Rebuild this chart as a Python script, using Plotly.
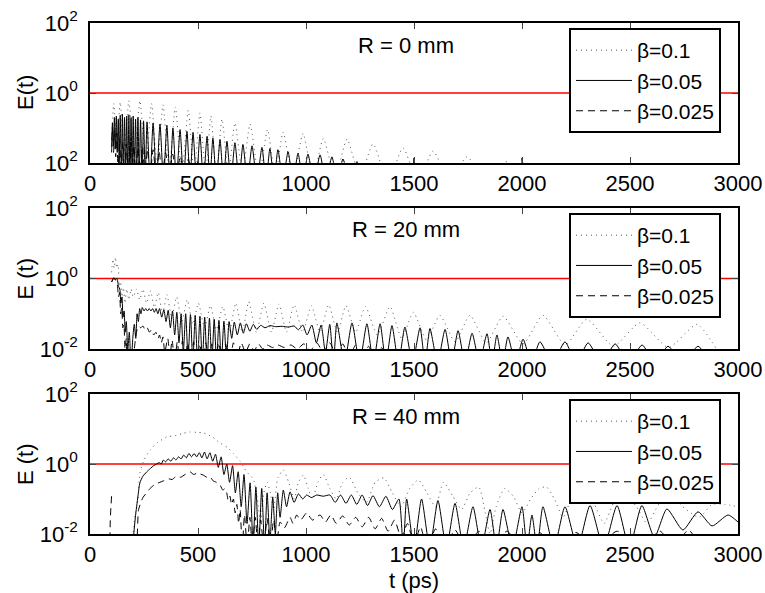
import plotly.graph_objects as go

# ---------------- data (t in ps, E) ----------------
betas = ["β=0.1", "β=0.05", "β=0.025"]
panel_labels = ["R = 0 mm", "R = 20 mm", "R = 40 mm"]
ylabels = ["E(t)", "E (t)", "E (t)"]
x_ticks = [0, 500, 1000, 1500, 2000, 2500, 3000]
y_ticks = [0.01, 1, 100]
y_ticktext_p1 = ["10<sup>2</sup>", "10<sup>0</sup>", "10<sup>2</sup>"]
y_ticktext = ["10<sup>-2</sup>", "10<sup>0</sup>", "10<sup>2</sup>"]
threshold_E = [1.0, 1.0]
threshold_t = [0, 3000]

# R = 0 mm
r0_b01 = [(100,0.05),(110,0.5),(125,0.03),(140,0.55),(158,0.02),(180,0.6),(205,0.015),(231,0.6),
          (258,0.01),(285,0.5),(311,0.008),(338,0.46),(366,0.006),(395,0.4),(425,0.005),(455,0.32),
          (482,0.005),(509,0.27),(535,0.005),(560,0.22),(585,0.005),(611,0.18),(641,0.005),(671,0.14),
          (706,0.005),(741,0.13),(782,0.004),(822,0.09),(858,0.004),(894,0.076),(940,0.004),(986,0.07),
          (1033,0.004),(1080,0.05),(1135,0.004),(1190,0.048),(1250,0.004),(1310,0.035),(1380,0.003),
          (1449,0.027),(1518,0.003),(1588,0.022),(1666,0.003),(1745,0.015),(1838,0.003),(1930,0.011),(2020,0.003)]
r0_b005 = [(100,0.03),(104,0.14),(108,0.03),(113,0.2),(117,0.025),(122,0.22),(126,0.02),(131,0.18),
           (135,0.01),(140,0.23),(145,0.005),(150,0.25),(155,0.004),(160,0.2),(165,0.004),(170,0.22),
           (175,0.004),(180,0.24),(185,0.004),(190,0.2),(195,0.004),(200,0.22),(205,0.004),(211,0.18),
           (216,0.004),(222,0.2),(228,0.004),(234,0.17),(241,0.004),(248,0.16),(256,0.004),(264,0.15),
           (278,0.003),(292,0.14),(308,0.003),(324,0.13),(340,0.003),(356,0.12),(370,0.003),(384,0.1),
           (400,0.003),(417,0.09),(433,0.003),(449,0.08),(463,0.003),(477,0.075),(493,0.003),(509,0.065),
           (525,0.003),(542,0.058),(555,0.003),(569,0.052),(585,0.003),(602,0.047),(618,0.003),(634,0.042),
           (652,0.003),(671,0.038),(690,0.003),(708,0.034),(729,0.003),(750,0.031),(773,0.003),(796,0.028),
           (815,0.003),(833,0.026),(852,0.003),(870,0.024),(893,0.003),(917,0.021),(940,0.003),(963,0.019),
           (986,0.003),(1009,0.018),(1037,0.003),(1065,0.017),(1092,0.003),(1120,0.015),(1145,0.003),
           (1171,0.013),(1203,0.003),(1236,0.011),(1255,0.003),(1490,0.003),(1500,0.014),(1510,0.003),
           (1990,0.003),(2000,0.014),(2010,0.003)]
r0_b0025 = [(100,0.02),(104,0.1),(109,0.02),(114,0.09),(119,0.015),(124,0.07),(130,0.006),(137,0.05),
            (144,0.005),(152,0.04),(160,0.004),(168,0.035),(176,0.004),(185,0.03),(194,0.004),(203,0.032),
            (212,0.004),(222,0.028),(232,0.004),(243,0.03),(254,0.004),(266,0.025),(278,0.004),(292,0.024),
            (306,0.004),(320,0.022),(334,0.004),(350,0.02),(366,0.004),(383,0.018),(400,0.004),(418,0.016),
            (436,0.004),(455,0.013),(475,0.004),(496,0.011),(518,0.004)]

# R = 20 mm
r20_b01 = [(100,1.5),(106,3.5),(112,2.0),(118,4.0),(124,2.0),(130,2.5),(136,0.6),(142,0.8),(148,0.3),
           (155,0.55),(162,0.2),(170,0.5),(180,0.25),(190,0.5),(200,0.3),(215,0.5),(230,0.25),(245,0.5),
           (262,0.2),(280,0.45),(298,0.15),(316,0.4),(336,0.1),(356,0.35),(378,0.08),(401,0.3),(425,0.06),
           (450,0.25),(476,0.05),(502,0.2),(530,0.04),(558,0.17),(585,0.035),(615,0.16),(645,0.03),
           (675,0.2),(705,0.03),(735,0.22),(770,0.03),(805,0.2),(840,0.03),(875,0.19),(910,0.03),
           (945,0.18),(985,0.03),(1025,0.17),(1065,0.03),(1105,0.18),(1145,0.03),(1185,0.17),(1230,0.03),
           (1275,0.16),(1330,0.025),(1389,0.16),(1443,0.02),(1497,0.11),(1558,0.018),(1620,0.09),
           (1690,0.016),(1759,0.09),(1835,0.015),(1912,0.085),(2005,0.014),(2097,0.09),(2200,0.013),
           (2300,0.07),(2423,0.012),(2546,0.055),(2678,0.011),(2810,0.05),(2900,0.01)]
r20_b005 = [(100,0.8),(110,1.05),(118,0.95),(125,1.0),(132,0.6),(138,0.5),(143,0.2),(148,0.3),
            (153,0.08),(158,0.12),(163,0.03),(168,0.06),(175,0.01),(182,0.03),(190,0.003),(198,0.02),
            (205,0.05),(212,0.02),(218,0.1),(224,0.06),(230,0.14),(236,0.1),(242,0.15),(250,0.12),
            (258,0.14),(266,0.12),(274,0.14),(282,0.12),(290,0.14),(298,0.11),(306,0.14),(314,0.1),
            (322,0.14),(332,0.08),(342,0.13),(352,0.06),(362,0.125),(372,0.04),(382,0.12),(392,0.025),
            (402,0.11),(412,0.015),(422,0.1),(432,0.008),(443,0.1),(454,0.005),(465,0.095),(476,0.004),
            (487,0.09),(498,0.004),(509,0.085),(520,0.004),(531,0.08),(542,0.004),(553,0.075),(564,0.004),
            (575,0.07),(586,0.004),(597,0.065),(608,0.004),(620,0.062),(632,0.005),(644,0.06),(656,0.02),
            (668,0.058),(682,0.025),(696,0.055),(710,0.028),(724,0.052),(740,0.032),(756,0.05),(772,0.036),
            (790,0.047),(810,0.04),(833,0.046),(860,0.043),(890,0.044),(920,0.042),(945,0.045),(965,0.035),
            (985,0.048),(1005,0.025),(1027,0.048),(1048,0.015),(1070,0.048),(1090,0.008),(1110,0.05),
            (1127,0.004),(1143,0.055),(1178,0.004),(1213,0.055),(1248,0.004),(1282,0.052),(1312,0.004),
            (1343,0.052),(1370,0.004),(1398,0.046),(1428,0.004),(1458,0.042),(1493,0.004),(1528,0.04),
            (1551,0.004),(1574,0.038),(1609,0.004),(1644,0.036),(1674,0.004),(1704,0.033),(1736,0.004),
            (1769,0.028),(1803,0.004),(1838,0.027),(1861,0.004),(1884,0.025),(1910,0.004),(1935,0.022),
            (1970,0.004),(2005,0.019),(2044,0.004),(2083,0.016),(2141,0.004),(2199,0.016),(2252,0.004),
            (2306,0.015),(2368,0.004),(2431,0.014),(2493,0.004),(2556,0.013),(2616,0.004),(2676,0.012),
            (2745,0.004),(2815,0.012),(2870,0.004)]
r20_b0025 = [(100,0.8),(110,1.0),(118,0.9),(126,0.7),(132,0.3),(137,0.4),(142,0.1),(147,0.15),
             (152,0.04),(157,0.05),(162,0.01),(168,0.02),(175,0.003),(185,0.003),(195,0.003),(205,0.01),
             (215,0.03),(225,0.045),(235,0.04),(245,0.045),(255,0.035),(265,0.04),(275,0.03),(285,0.035),
             (295,0.025),(305,0.03),(315,0.02),(322,0.025),(330,0.015),(338,0.022),(346,0.008),(360,0.02),
             (370,0.006),(380,0.018),(392,0.004),(404,0.016),(416,0.004),(428,0.017),(440,0.004),
             (452,0.015),(466,0.004),(480,0.016),(494,0.004),(508,0.014),(522,0.004),(536,0.015),
             (550,0.004),(564,0.014),(580,0.004),(596,0.015),(612,0.004),(628,0.014),(646,0.004),
             (664,0.015),(682,0.006),(700,0.015),(720,0.008),(740,0.014),(760,0.009),(780,0.014),
             (800,0.01),(820,0.013),(845,0.011),(870,0.013),(900,0.011),(930,0.013),(960,0.01),
             (990,0.014),(1020,0.009),(1050,0.015),(1080,0.008),(1110,0.015),(1140,0.007),(1170,0.014),
             (1200,0.006),(1230,0.013),(1260,0.005),(1290,0.012),(1320,0.004),(1350,0.011),(1380,0.003)]

# R = 40 mm
r40_b01 = [(190,0.003),(210,0.04),(222,0.095),(231,0.55),(250,1.3),(278,2.5),(310,4.0),(356,5.9),
           (400,6.5),(430,7.5),(463,8.2),(495,8.0),(525,7.7),(565,6.0),(602,4.0),(635,3.0),(664,2.0),
           (695,1.2),(725,0.6),(756,0.37),(775,0.1),(790,0.02),(805,0.15),(820,0.3),(835,0.15),(850,0.05),
           (870,0.4),(895,0.67),(920,0.3),(945,0.1),(965,0.3),(988,0.48),(1010,0.2),(1030,0.1),(1055,0.3),
           (1080,0.5),(1110,0.2),(1140,0.1),(1170,0.3),(1200,0.42),(1240,0.15),(1280,0.08),(1320,0.3),
           (1360,0.4),(1400,0.15),(1440,0.06),(1480,0.2),(1520,0.35),(1560,0.15),(1600,0.06),(1636,0.3),
           (1680,0.12),(1720,0.05),(1760,0.15),(1800,0.22),(1830,0.04),(1852,0.01),(1880,0.06),(1920,0.2),
           (1960,0.12),(2000,0.04),(2040,0.1),(2080,0.2),(2114,0.22),(2150,0.1),(2190,0.03),(2230,0.1),
           (2280,0.15),(2330,0.08),(2380,0.02),(2430,0.09),(2480,0.13),(2530,0.06),(2580,0.02),(2640,0.08),
           (2700,0.1),(2760,0.05),(2820,0.03),(2880,0.07),(2940,0.07),(3000,0.06)]
r40_b005 = [(195,0.003),(210,0.03),(222,0.12),(231,0.29),(245,0.45),(262,0.59),(280,0.75),(295,0.9),
            (309,1.0),(320,1.1),(330,1.0),(340,1.3),(350,1.15),(362,1.4),(374,1.2),(386,1.5),(398,1.3),
            (410,1.6),(422,1.4),(434,1.8),(446,1.5),(458,2.0),(470,1.6),(482,2.0),(494,1.6),(506,2.1),
            (518,1.5),(530,2.2),(542,1.4),(555,2.1),(568,1.2),(581,1.9),(594,0.8),(607,1.6),(620,0.5),
            (633,1.0),(646,0.3),(660,0.9),(673,0.15),(686,0.6),(700,0.06),(713,0.5),(727,0.02),(741,0.29),
            (755,0.005),(768,0.22),(781,0.004),(795,0.2),(808,0.004),(820,0.15),(833,0.006),(846,0.115),
            (858,0.01),(869,0.15),(880,0.03),(895,0.18),(910,0.06),(926,0.16),(945,0.08),(965,0.14),
            (985,0.1),(1003,0.13),(1025,0.11),(1050,0.13),(1080,0.12),(1111,0.13),(1135,0.08),(1160,0.13),
            (1185,0.075),(1210,0.13),(1235,0.07),(1260,0.13),(1285,0.065),(1310,0.125),(1340,0.06),
            (1370,0.12),(1400,0.05),(1430,0.1),(1450,0.004),(1466,0.1),(1500,0.004),(1535,0.1),(1573,0.004),
            (1611,0.09),(1650,0.004),(1690,0.075),(1730,0.004),(1773,0.06),(1812,0.004),(1852,0.05),
            (1882,0.004),(1912,0.05),(1956,0.004),(2000,0.06),(2023,0.004),(2046,0.035),(2070,0.004),
            (2097,0.06),(2148,0.004),(2199,0.06),(2257,0.004),(2315,0.065),(2378,0.004),(2440,0.065),
            (2497,0.004),(2555,0.065),(2613,0.008),(2671,0.052),(2745,0.013),(2815,0.043),(2880,0.017),
            (2954,0.035),(3000,0.022)]
r40_b0025 = [(100,0.12),(104,0.003),(205,0.003),(225,0.05),(245,0.11),(262,0.15),(278,0.2),(300,0.26),
             (324,0.3),(340,0.33),(362,0.38),(380,0.36),(401,0.45),(420,0.42),(440,0.5),(463,0.6),
             (480,0.5),(495,0.55),(509,0.52),(525,0.48),(540,0.42),(556,0.43),(570,0.33),(585,0.3),
             (602,0.25),(615,0.18),(625,0.2),(633,0.15),(640,0.09),(648,0.12),(655,0.07),(664,0.1),
             (672,0.04),(680,0.07),(688,0.02),(695,0.05),(705,0.004),(715,0.035),(728,0.004),(740,0.03),
             (752,0.004),(765,0.03),(778,0.004),(790,0.025),(805,0.004),(820,0.028),(835,0.004),
             (850,0.025),(865,0.006),(880,0.022),(900,0.015),(926,0.03),(940,0.02),(957,0.035),
             (975,0.025),(1003,0.04),(1030,0.025),(1065,0.035),(1090,0.022),(1115,0.035),(1140,0.02),
             (1170,0.033),(1200,0.018),(1230,0.03),(1260,0.016),(1290,0.03),(1320,0.014),(1350,0.028),
             (1380,0.012),(1410,0.025),(1440,0.008),(1470,0.02),(1500,0.005),(1530,0.016),(1560,0.004),
             (1600,0.014),(1640,0.004),(1690,0.013),(1740,0.004),(1800,0.012),(1860,0.004),(1930,0.012),
             (2000,0.004),(2080,0.011),(2160,0.004),(2250,0.011),(2340,0.004),(2440,0.012),(2540,0.004),
             (2640,0.012),(2700,0.004),(2770,0.013),(2830,0.004)]

panels = [[r0_b01, r0_b005, r0_b0025], [r20_b01, r20_b005, r20_b0025], [r40_b01, r40_b005, r40_b0025]]

# ---------------- figure ----------------
W, H = 765, 593
FONT = "Liberation Sans, Arial, Helvetica, sans-serif"
styles = [dict(color="#555555", width=1, dash="1px,4px"),
          dict(color="black", width=1),
          dict(color="black", width=1, dash="7px,5px")]

# plot-area pixel boxes (top, bottom)
px_left, px_right = 90, 738
boxes = [(23, 163), (208, 349), (394, 534)]
legend_tops = [28, 213, 399]
label_y = [46, 229, 416]

fig = go.Figure()
layout = dict(width=W, height=H, margin=dict(l=0, r=0, t=0, b=0, autoexpand=False),
              paper_bgcolor="white", plot_bgcolor="white",
              font=dict(family=FONT, size=22, color="black"),
              showlegend=True, annotations=[])

for i, series in enumerate(panels):
    n = "" if i == 0 else str(i + 1)
    xa, ya = "x" + n, "y" + n
    lg = "legend" + n
    fig.add_trace(go.Scatter(x=threshold_t, y=threshold_E, mode="lines",
                             line=dict(color="red", width=1.5), showlegend=False,
                             xaxis=xa, yaxis=ya, hoverinfo="skip"))
    for j, data in enumerate(series):
        fig.add_trace(go.Scatter(x=[p[0] for p in data], y=[p[1] for p in data], mode="lines",
                                 name=betas[j], line=dict(**styles[j], shape="spline", smoothing=0.6),
                                 xaxis=xa, yaxis=ya, legend=lg))
    top, bot = boxes[i]
    dom_y = [(H - bot) / H, (H - top) / H]
    layout["xaxis" + n] = dict(domain=[px_left / W, px_right / W], range=[0, 3000],
                               anchor=ya, tickvals=x_ticks, ticks="inside", ticklen=6,
                               showline=True, linecolor="black", linewidth=1.5, mirror="ticks",
                               showgrid=False, zeroline=False, tickfont=dict(size=22),
                               automargin=False)
    layout["yaxis" + n] = dict(domain=dom_y, type="log", range=[-2, 2], anchor=xa,
                               tickvals=y_ticks, ticktext=(y_ticktext_p1 if i == 0 else y_ticktext),
                               ticks="inside", ticklen=6, showline=True, linecolor="black",
                               linewidth=1.5, mirror="ticks", showgrid=False, zeroline=False,
                               tickfont=dict(size=22), ticklabelstandoff=6, automargin=False)
    layout[lg] = dict(x=569 / W, y=(H - legend_tops[i]) / H, xanchor="left", yanchor="top",
                      bgcolor="white", bordercolor="black", borderwidth=2,
                      font=dict(size=21, family=FONT), itemwidth=56, tracegroupgap=0)
    layout["annotations"].append(dict(text=panel_labels[i], x=406 / W, y=(H - label_y[i]) / H,
                                      xref="paper", yref="paper", showarrow=False,
                                      xanchor="center", yanchor="middle", font=dict(size=22)))
    layout["annotations"].append(dict(text=ylabels[i], x=25 / W, y=(H - (top + bot) / 2) / H,
                                      xref="paper", yref="paper", showarrow=False, textangle=-90,
                                      xanchor="center", yanchor="middle", font=dict(size=22)))

layout["annotations"].append(dict(text="t (ps)", x=414 / W, y=(H - 580) / H, xref="paper",
                                  yref="paper", showarrow=False, xanchor="center",
                                  yanchor="middle", font=dict(size=22)))
fig.update_layout(**layout)
fig.write_html("out.html")
